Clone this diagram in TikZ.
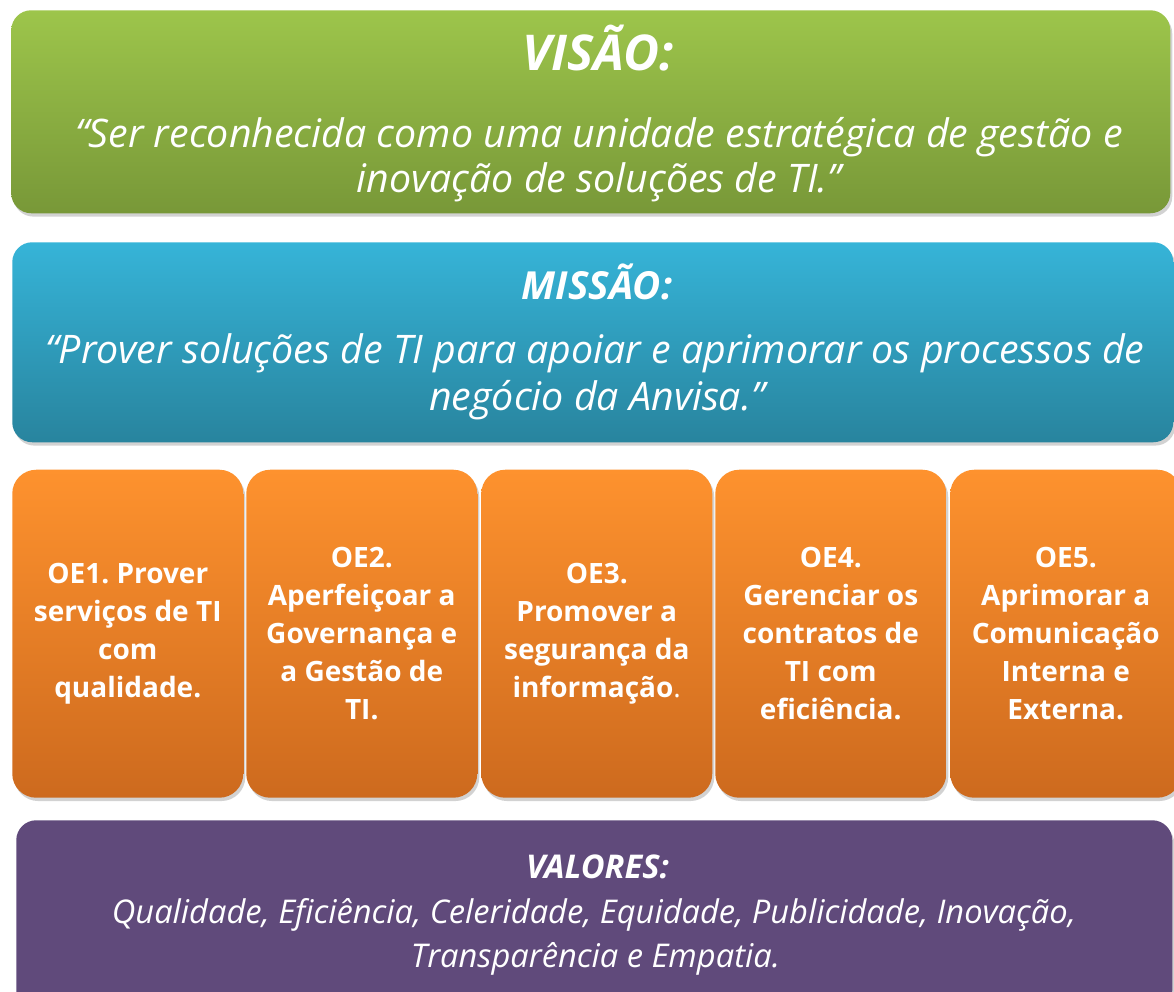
\documentclass[tikz,border=0pt]{standalone}
\usepackage{fontspec}
\setmainfont{Open Sans}
\usetikzlibrary{shadows}
\definecolor{gtop}{HTML}{9DC54B}
\definecolor{gbot}{HTML}{789838}
\definecolor{btop}{HTML}{36B4D8}
\definecolor{bbot}{HTML}{28849E}
\definecolor{otop}{HTML}{FE922E}
\definecolor{obot}{HTML}{CD6A1E}
\definecolor{purp}{HTML}{604A7B}
\tikzset{
  bigbox/.style={rounded corners=15pt, draw=none, inner sep=0pt,
    drop shadow={opacity=0.35, shadow xshift=1.5pt, shadow yshift=-2.5pt}},
  oebox/.style={rounded corners=18pt, draw=none, inner sep=0pt, align=center, text=white,
    top color=otop, bottom color=obot, minimum width=231*0.75pt, minimum height=328*0.75pt,
    font=\fontsize{21}{28.5}\selectfont\bfseries,
    drop shadow={opacity=0.35, shadow xshift=1.5pt, shadow yshift=-2.5pt}},
  txt/.style={text=white, inner sep=0pt, anchor=base},
  titlebig/.style={txt, font=\fontsize{37}{40}\selectfont\bfseries\itshape},
  titlemid/.style={txt, font=\fontsize{29}{32}\selectfont\bfseries\itshape},
  bodybig/.style={txt, font=\fontsize{29.5}{34}\selectfont\itshape},
  bodysmall/.style={txt, font=\fontsize{24.5}{30}\selectfont\itshape},
  titlesmall/.style={txt, font=\fontsize{24.5}{30}\selectfont\bfseries\itshape},
}
\begin{document}
\frenchspacing
\begin{tikzpicture}[x=0.75pt,y=0.75pt]
\useasboundingbox (0,0) rectangle (1174,992);
\fill[white] (0,0) rectangle (1174,992);
% VISAO
\node[bigbox, top color=gtop, bottom color=gbot, minimum width=1159*0.75pt, minimum height=203*0.75pt,
  anchor=north west] (visao) at (11,982) {};
\node[titlebig] (visaot) at (598,921) {VISÃO:};
\node[bodybig] (visao1) at (599,844) {“Ser reconhecida como uma unidade estratégica de gestão e};
\node[bodybig] (visao2) at (599,799) {inovação de soluções de TI.”};
% MISSAO
\node[bigbox, top color=btop, bottom color=bbot, minimum width=1161*0.75pt, minimum height=200*0.75pt,
  anchor=north west] (missao) at (12,750) {};
\node[titlemid] (missaot) at (597,692) {MISSÃO:};
\node[bodybig] (missao1) at (595,628) {“Prover soluções de TI para apoiar e aprimorar os processos de};
\node[bodybig] (missao2) at (597,581) {negócio da Anvisa.”};
% OE boxes
\node[oebox, anchor=south west] (oe1) at (12,194) {OE1. Prover\\ serviços de TI\\ com\\ qualidade.};
\node[oebox, anchor=south west] (oe2) at (246,194) {OE2.\\ Aperfeiçoar a\\ Governança e\\ a Gestão de\\ TI.};
\node[oebox, anchor=south west] (oe3) at (481,194) {OE3.\\ Promover a\\ segurança da\\ informação{\mdseries .}};
\node[oebox, anchor=south west] (oe4) at (715,194) {OE4.\\ Gerenciar os\\ contratos de\\ TI com\\ eficiência.};
\node[oebox, anchor=south west] (oe5) at (950,194) {OE5.\\ Aprimorar a\\ Comunicação\\ Interna e\\ Externa.};
% VALORES
\node[bigbox, fill=purp, minimum width=1156*0.75pt, minimum height=190*0.75pt,
  anchor=north west] (valores) at (16,172) {};
\node[titlesmall] (valorest) at (597.5,113) {VALORES:};
\node[bodysmall] (valores1) at (594,68) {Qualidade, Eficiência, Celeridade, Equidade, Publicidade, Inovação,};
\node[bodysmall] (valores2) at (595.5,24) {Transparência e Empatia.};
\end{tikzpicture}
\end{document}
